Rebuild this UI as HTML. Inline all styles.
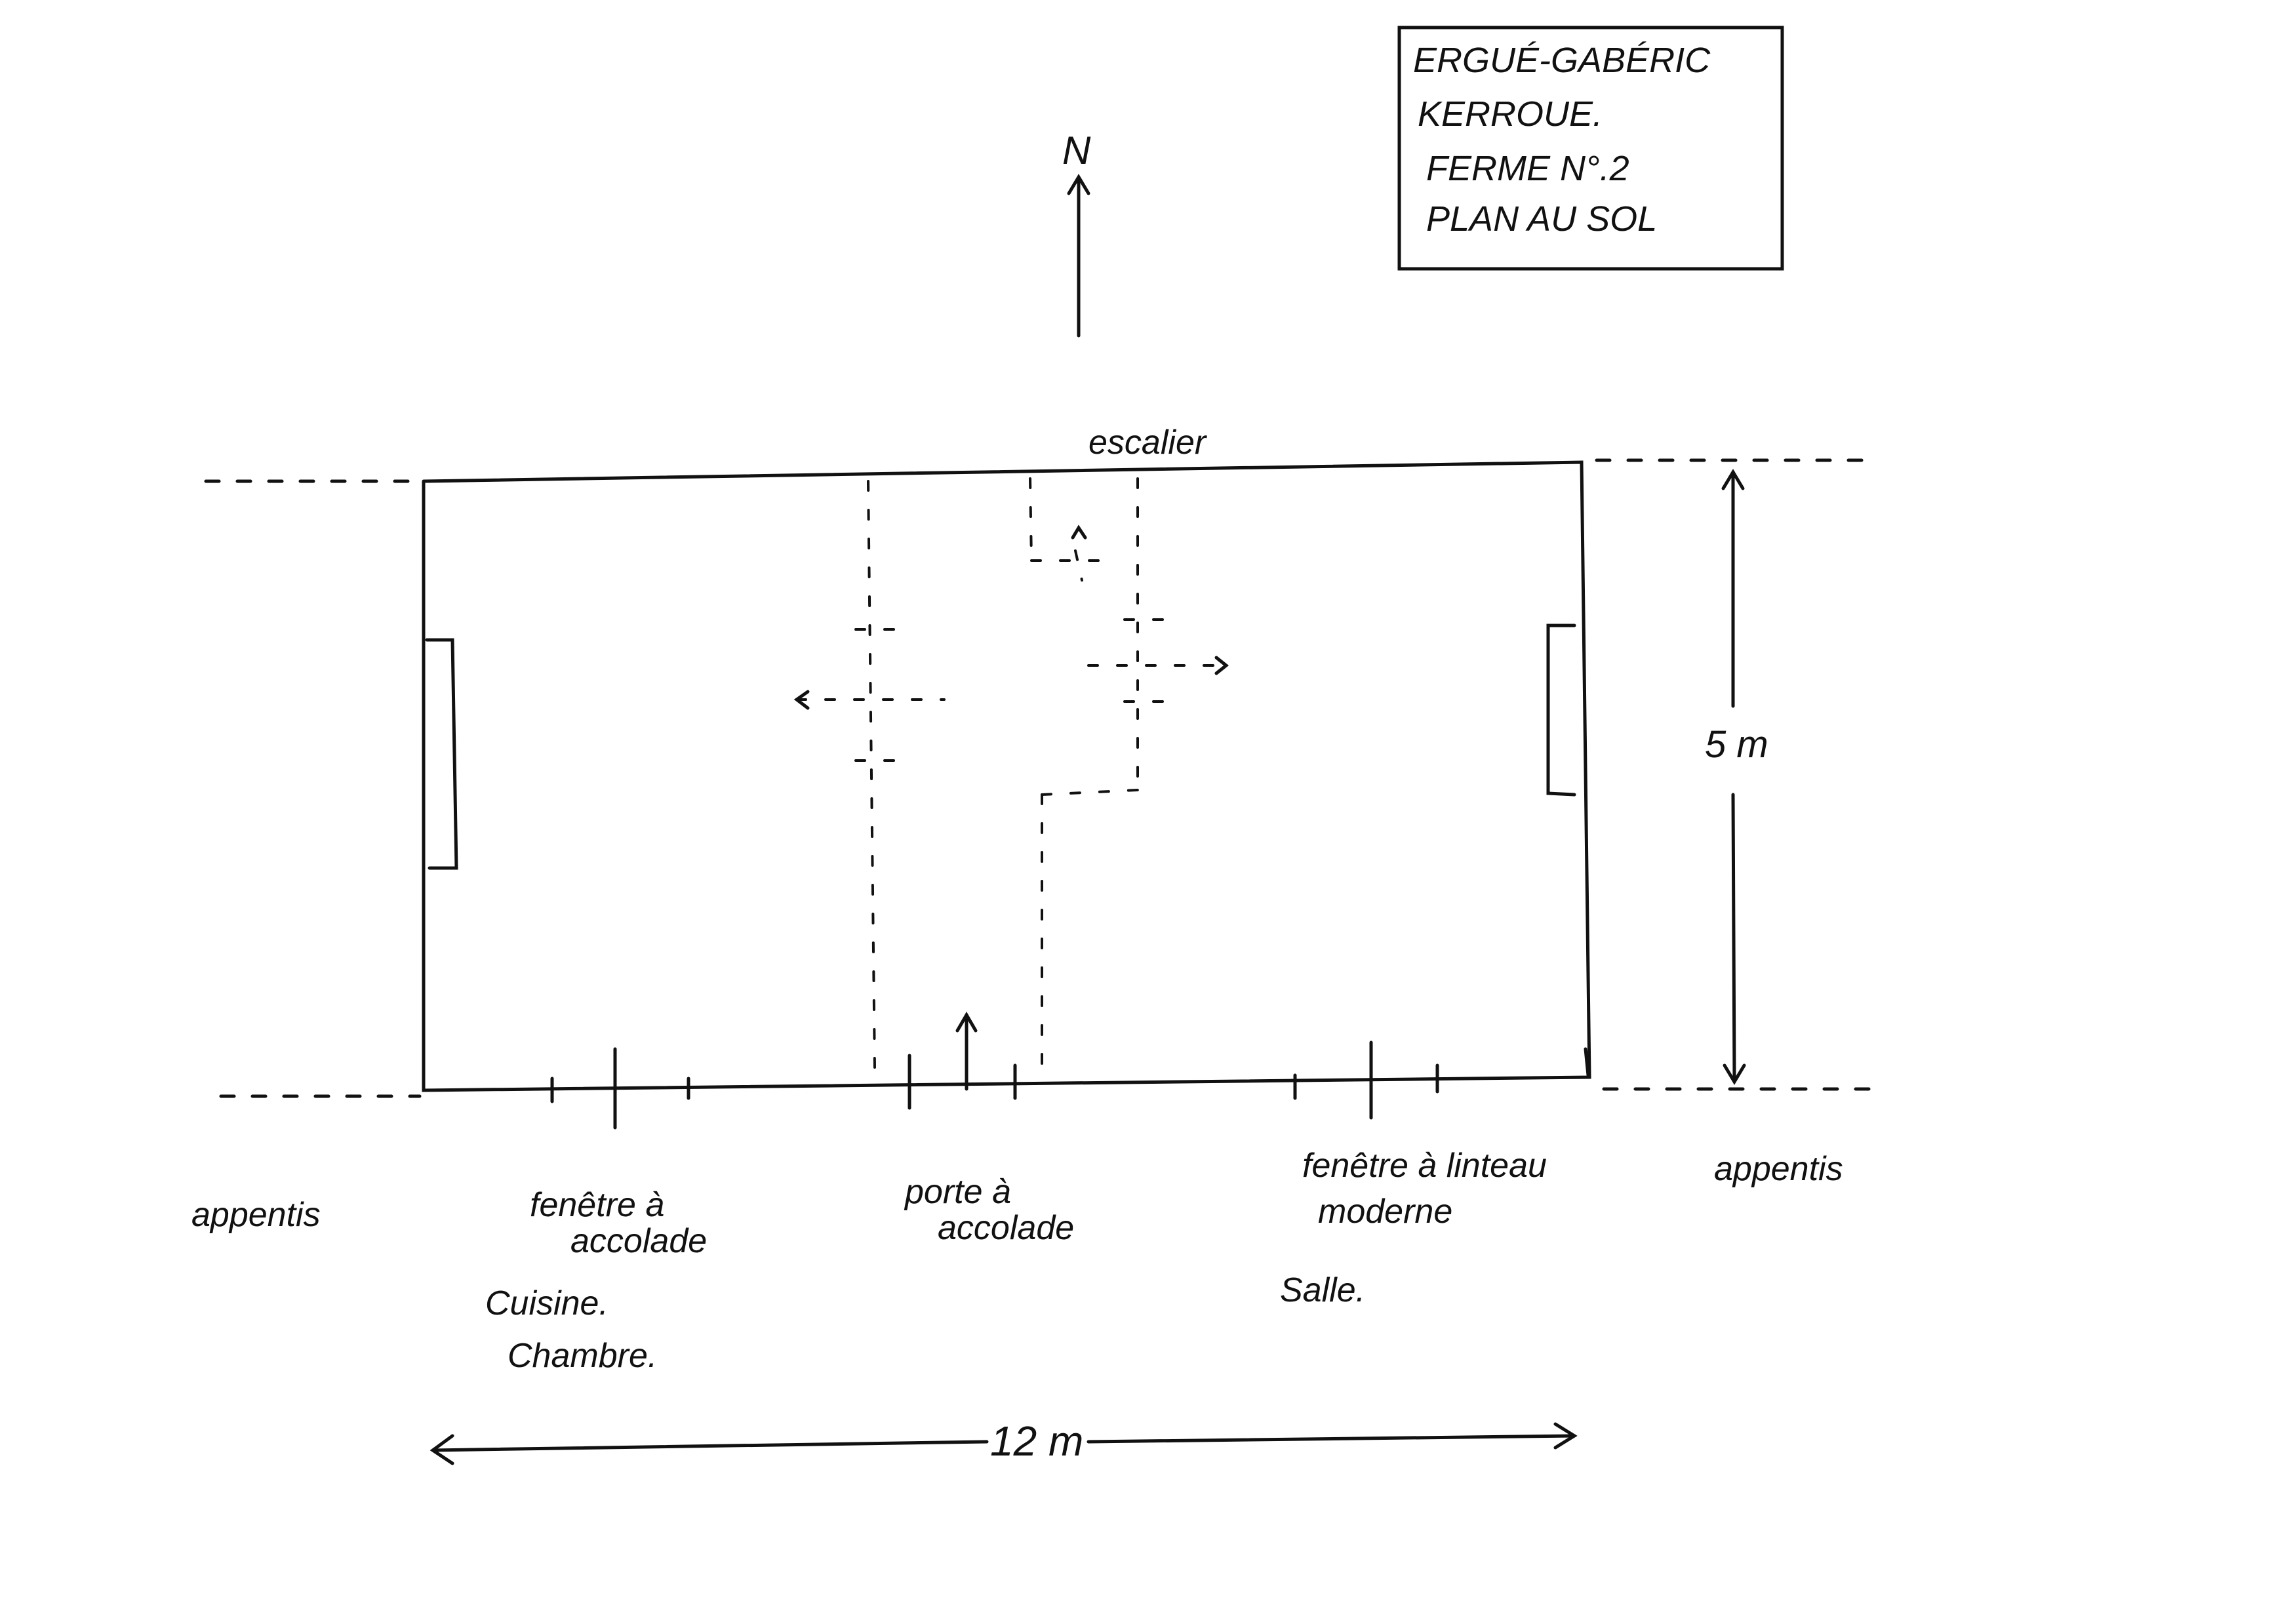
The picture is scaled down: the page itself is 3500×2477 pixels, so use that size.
<!DOCTYPE html>
<html><head><meta charset="utf-8"><style>
html,body{margin:0;padding:0;background:#fff;}
svg{display:block;}
text{font-family:"Liberation Sans",sans-serif;font-style:italic;fill:#111;}
</style></head><body>
<svg width="3500" height="2477" viewBox="0 0 3500 2477" xmlns="http://www.w3.org/2000/svg">
<g stroke="#111" stroke-width="5" fill="none" stroke-linecap="round">
<!-- title box -->
<rect x="2134" y="42" width="584" height="368"/>
<!-- north arrow -->
<line x1="1645" y1="512" x2="1645" y2="272"/>
<polyline points="1630,295 1645,270 1660,295"/>
<!-- building -->
<polyline points="646,734 2412,705 2424,1643 646,1663 646,734"/>
<!-- windows side -->
<polyline points="651,976 690,976 696,1324 655,1324"/>
<polyline points="2401,954 2361,954 2361,1210 2401,1212"/>
<!-- outer dashed lines -->
<g stroke-dasharray="20,28">
<line x1="314" y1="734" x2="640" y2="734"/>
<line x1="2435" y1="702" x2="2861" y2="702"/>
<line x1="337" y1="1672" x2="640" y2="1672"/>
<line x1="2446" y1="1661" x2="2872" y2="1661"/>
</g>
<!-- interior dashed -->
<g stroke-dasharray="14,30" stroke-width="4">
<line x1="1324" y1="734" x2="1334" y2="1630"/>
<line x1="1589" y1="1212" x2="1589" y2="1630"/>
<line x1="1735" y1="730" x2="1735" y2="1212"/>
<line x1="1589" y1="1212" x2="1735" y2="1205"/>
<line x1="1571" y1="730" x2="1573" y2="855"/>
<line x1="1573" y1="855" x2="1700" y2="855"/>
<line x1="1215" y1="1067" x2="1440" y2="1067"/>
<line x1="1305" y1="960" x2="1370" y2="960"/>
<line x1="1305" y1="1160" x2="1390" y2="1160"/>
<line x1="1660" y1="1015" x2="1870" y2="1015"/>
<line x1="1715" y1="945" x2="1800" y2="945"/>
<line x1="1715" y1="1070" x2="1800" y2="1070"/>
<line x1="1640" y1="840" x2="1650" y2="885"/>
</g>
<polyline points="1232,1055 1215,1067 1232,1080"/>
<polyline points="1855,1003 1870,1015 1855,1027"/>
<polyline points="1636,820 1645,805 1655,820"/>
<!-- 5m arrow -->
<line x1="2643" y1="720" x2="2643" y2="1077"/>
<line x1="2643" y1="1212" x2="2645" y2="1648"/>
<polyline points="2628,745 2643,720 2658,745"/>
<polyline points="2630,1625 2645,1650 2660,1625"/>
<!-- 12m arrow -->
<line x1="660" y1="2212" x2="1505" y2="2199"/>
<line x1="1660" y1="2199" x2="2401" y2="2190"/>
<polyline points="690,2190 660,2212 690,2232"/>
<polyline points="2372,2172 2401,2190 2372,2208"/>
<!-- door arrow -->
<line x1="1474" y1="1661" x2="1474" y2="1548"/>
<polyline points="1460,1572 1474,1548 1488,1572"/>
<!-- ticks -->
<line x1="842" y1="1645" x2="842" y2="1680"/>
<line x1="938" y1="1600" x2="938" y2="1720"/>
<line x1="1050" y1="1645" x2="1050" y2="1675"/>
<line x1="1387" y1="1610" x2="1387" y2="1690"/>
<line x1="1548" y1="1625" x2="1548" y2="1675"/>
<line x1="1975" y1="1640" x2="1975" y2="1675"/>
<line x1="2091" y1="1590" x2="2091" y2="1705"/>
<line x1="2192" y1="1625" x2="2192" y2="1665"/>
<line x1="2418" y1="1600" x2="2422" y2="1640"/>
</g>
<g font-size="52">
<text x="2155" y="110" font-size="54">ERGUÉ-GABÉRIC</text>
<text x="2162" y="192" font-size="54">KERROUE.</text>
<text x="2175" y="275" font-size="54">FERME N°.2</text>
<text x="2175" y="352" font-size="54">PLAN  AU SOL</text>
<text x="1620" y="250" font-size="60">N</text>
<text x="1660" y="692">escalier</text>
<text x="2600" y="1155" font-size="58">5 m</text>
<text x="1510" y="2220" font-size="64">12 m</text>
<text x="292" y="1870">appentis</text>
<text x="808" y="1855">fenêtre à</text>
<text x="870" y="1910">accolade</text>
<text x="1380" y="1835">porte à</text>
<text x="1430" y="1890">accolade</text>
<text x="1986" y="1795">fenêtre à linteau</text>
<text x="2010" y="1865">moderne</text>
<text x="2614" y="1800">appentis</text>
<text x="740" y="2005">Cuisine.</text>
<text x="774" y="2085">Chambre.</text>
<text x="1952" y="1985">Salle.</text>
</g>
</svg>
</body></html>
